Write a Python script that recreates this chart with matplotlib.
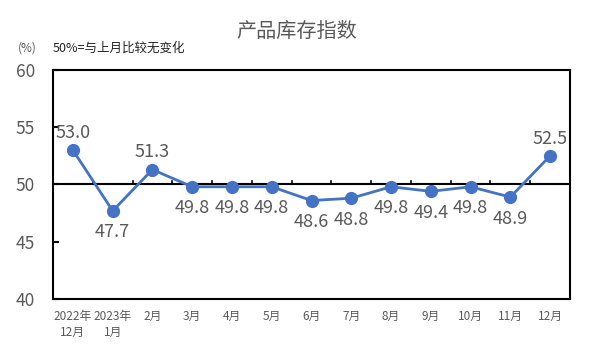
import matplotlib
matplotlib.use("Agg")
import matplotlib.pyplot as plt

plt.rcParams['font.family'] = ['Noto Sans CJK SC', 'DejaVu Sans']

categories = ["2022年\n12月", "2023年\n1月", "2月", "3月", "4月", "5月", "6月",
              "7月", "8月", "9月", "10月", "11月", "12月"]
values = [53.0, 47.7, 51.3, 49.8, 49.8, 49.8, 48.6, 48.8, 49.8, 49.4, 49.8, 48.9, 52.5]
label_above = [True, False, True, False, False, False, False, False, False, False, False, False, True]
yticks = [40, 45, 50, 55, 60]

line_color = "#4472C4"
gray = "#595959"

fig = plt.figure(figsize=(5.93, 3.54), dpi=100)
ax = fig.add_axes([0.0894, 0.1554, 0.8718, 0.6469])

x = list(range(len(values)))
ax.plot(x, values, color=line_color, linewidth=2.0, marker='o', markersize=8.5, zorder=4)

for xi, v, up in zip(x, values, label_above):
    ax.annotate(f"{v:.1f}", (xi, v), xytext=(0, 6 if up else -9), textcoords='offset points',
                ha='center', va='bottom' if up else 'top', fontsize=13, color=gray, zorder=5)

ax.set_xlim(-0.5, len(values) - 0.5)
ax.set_ylim(40, 60)
ax.set_yticks(yticks)
ax.set_yticklabels([str(t) for t in yticks], fontsize=12.5, color=gray)
ax.tick_params(axis='y', direction='in', length=4, width=1.5, pad=13, color='black')

ax.set_xticks(x)
ax.set_xticklabels(categories, fontsize=8.5, color=gray, linespacing=1.25)
ax.tick_params(axis='x', length=0, pad=8)

for s in ax.spines.values():
    s.set_linewidth(1.5)
    s.set_color('black')

# 50% reference line with category boundary ticks
ax.axhline(50, color='black', linewidth=1.5, zorder=3)
for k in range(1, len(values)):
    ax.plot([k - 0.5, k - 0.5], [50, 50.3], color='black', linewidth=1.2, zorder=3)

fig.text(0.5, 0.912, "产品库存指数", ha='center', va='center', fontsize=14.5, color=gray)
fig.text(0.03, 0.865, "(%)", ha='left', va='center', fontsize=8.5, color=gray)
fig.text(0.088, 0.865, "50%=与上月比较无变化", ha='left', va='center', fontsize=9, color='#222222')

fig.savefig("out.png", dpi=100)
